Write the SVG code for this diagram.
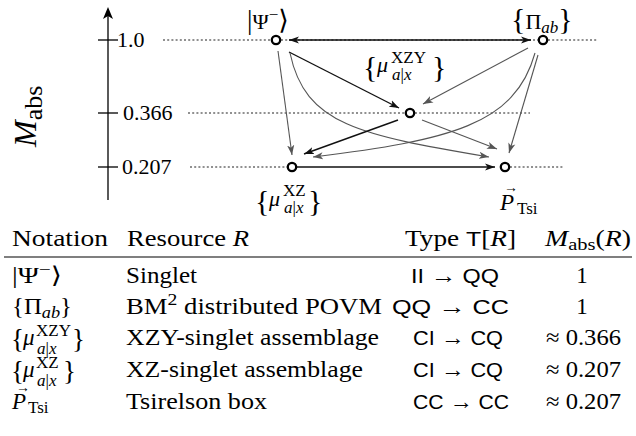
<svg xmlns="http://www.w3.org/2000/svg" width="636" height="436" viewBox="0 0 636 436">
<style>
.t{font-family:"Liberation Serif","DejaVu Serif","DejaVu Sans",serif;font-size:22px;fill:#000}
.tb{font-family:"Liberation Serif","DejaVu Serif","DejaVu Sans",serif;font-size:23px;fill:#000}
.it{font-style:italic}
.sf{font-family:"Liberation Sans","DejaVu Sans",sans-serif;font-size:21px}
.big{font-size:30px}
.mid{font-size:27px}
.sm{font-size:17px}
.dot{stroke:#222;stroke-width:1.1;stroke-dasharray:2 2.2;fill:none}
.k{stroke:#111;stroke-width:1.4;fill:none;marker-end:url(#ak)}
.g{stroke:#555;stroke-width:1.1;fill:none;marker-end:url(#ag)}
.node{fill:#fff;stroke:#000;stroke-width:2.3}
.rule{stroke:#000;stroke-width:1.2}
</style>
<defs>
<marker id="ak" viewBox="0 0 10 8" markerWidth="10" markerHeight="8" refX="10" refY="4" orient="auto-start-reverse" markerUnits="userSpaceOnUse"><path d="M0,0.4 L10,4 L0,7.6 L2.6,4 z" fill="#111"/></marker>
<marker id="ag" viewBox="0 0 10 8" markerWidth="10" markerHeight="8" refX="10" refY="4" orient="auto" markerUnits="userSpaceOnUse"><path d="M0,0.4 L10,4 L0,7.6 L2.6,4 z" fill="#555"/></marker>
</defs>

<g id="axis">
<line x1="108" y1="200" x2="108" y2="12" stroke="#000" stroke-width="1.3"/>
<path d="M108,7 L113,19 L108,16 L103,19 z" fill="#000"/>
<line x1="98" y1="40" x2="118" y2="40" stroke="#000" stroke-width="1.3"/>
<line x1="98" y1="113" x2="118" y2="113" stroke="#000" stroke-width="1.3"/>
<line x1="98" y1="167" x2="118" y2="167" stroke="#000" stroke-width="1.3"/>
<text class="t" x="117" y="47">1.0</text>
<text class="t" x="123" y="120">0.366</text>
<text class="t" x="122" y="174">0.207</text>
<text class="t" transform="translate(36,147) rotate(-90)"><tspan class="it" font-size="32">M</tspan><tspan font-size="26" dy="6">abs</tspan></text>
</g>

<g id="levels">
<line class="dot" x1="163" y1="40" x2="272" y2="40"/>
<line class="dot" x1="281" y1="40" x2="538" y2="40"/>
<line class="dot" x1="548" y1="40" x2="597" y2="40"/>
<line class="dot" x1="188" y1="113" x2="405" y2="113"/>
<line class="dot" x1="415" y1="113" x2="530" y2="113"/>
<line class="dot" x1="190" y1="167" x2="287" y2="167"/>
<line class="dot" x1="510" y1="167" x2="563" y2="167"/>
</g>

<g id="connectors">
<line x1="289" y1="40" x2="531" y2="40" stroke="#111" stroke-width="1.3" marker-start="url(#ak)" marker-end="url(#ak)"/>
<line class="k" x1="297" y1="167" x2="495" y2="167"/>
<line class="g" x1="278" y1="51" x2="292" y2="155"/>
<line class="k" x1="289" y1="52" x2="399" y2="108"/>
<path class="g" d="M290,53 C305,125 360,135 489,157"/>
<line class="g" x1="528" y1="48" x2="423" y2="104"/>
<line class="g" x1="538" y1="55" x2="509" y2="153"/>
<path class="g" d="M535,53 C515,125 450,140 313,157"/>
<line class="k" x1="398" y1="120" x2="304" y2="154"/>
<line class="g" x1="422" y1="120" x2="497" y2="149"/>
</g>

<g id="psi">
<circle class="node" cx="276" cy="40" r="4.2"/>
<text class="t" x="247" y="29"><tspan class="mid">|</tspan><tspan>Ψ</tspan><tspan class="sm" dy="-9">−</tspan><tspan class="mid" dy="9">⟩</tspan></text>
</g>
<g id="pi">
<circle class="node" cx="543" cy="40" r="4.2"/>
<text class="t" x="511" y="29"><tspan class="big">{</tspan><tspan>Π</tspan><tspan class="sm it" dy="4">ab</tspan><tspan class="big" dy="-4">}</tspan></text>
</g>
<g id="muxzy">
<circle class="node" cx="410" cy="113" r="4.2"/>
<text class="t" x="363" y="77"><tspan class="big">{</tspan><tspan class="it" x="377" y="72">μ</tspan><tspan class="sm" x="391" y="63">XZY</tspan><tspan class="sm it" x="392" y="80">a</tspan><tspan class="sm">|</tspan><tspan class="sm it">x</tspan><tspan class="big" x="432" y="77">}</tspan></text>
</g>
<g id="muxz">
<circle class="node" cx="292" cy="167" r="4.2"/>
<text class="t" x="255" y="211"><tspan class="big">{</tspan><tspan class="it" x="269" y="206">μ</tspan><tspan class="sm" x="283" y="196">XZ</tspan><tspan class="sm it" x="284" y="213">a</tspan><tspan class="sm">|</tspan><tspan class="sm it">x</tspan><tspan class="big" x="308" y="211">}</tspan></text>
</g>
<g id="ptsi">
<circle class="node" cx="505" cy="167" r="4.2"/>
<text class="tb" x="500" y="210"><tspan class="it">P</tspan><tspan x="504" y="192" font-size="14">→</tspan><tspan class="sm" x="517" y="214">Tsi</tspan></text>
</g>

<g id="table">
<text class="tb" x="12" y="246" textLength="96" lengthAdjust="spacingAndGlyphs">Notation</text>
<text class="tb" x="127" y="246" textLength="122" lengthAdjust="spacingAndGlyphs">Resource <tspan class="it">R</tspan></text>
<text class="tb" x="405" y="246" textLength="111" lengthAdjust="spacingAndGlyphs">Type <tspan class="sf">T</tspan>[<tspan class="it">R</tspan>]</text>
<text class="tb" x="545" y="246" textLength="86" lengthAdjust="spacingAndGlyphs"><tspan class="it">M</tspan><tspan class="sm" dy="4">abs</tspan><tspan dy="-4">(</tspan><tspan class="it">R</tspan>)</text>
<line class="rule" x1="4" y1="257" x2="632" y2="257"/>

<text class="tb" x="12" y="283" textLength="50" lengthAdjust="spacingAndGlyphs">|Ψ<tspan class="sm" dy="-8">−</tspan><tspan dy="8">⟩</tspan></text>
<text class="tb" x="126" y="283" textLength="71" lengthAdjust="spacingAndGlyphs">Singlet</text>
<text class="tb" x="411" y="283" textLength="88" lengthAdjust="spacingAndGlyphs"><tspan class="sf">II</tspan> → <tspan class="sf">QQ</tspan></text>
<text class="tb" x="582" y="283" text-anchor="middle">1</text>

<text class="tb" x="12" y="314" textLength="60" lengthAdjust="spacingAndGlyphs">{Π<tspan class="sm it" dy="4">ab</tspan><tspan dy="-4">}</tspan></text>
<text class="tb" x="126" y="314" textLength="256" lengthAdjust="spacingAndGlyphs">BM<tspan class="sm" dy="-9">2</tspan><tspan dy="9"> distributed POVM</tspan></text>
<text class="tb" x="392" y="314" textLength="117" lengthAdjust="spacingAndGlyphs"><tspan class="sf">QQ</tspan> → <tspan class="sf">CC</tspan></text>
<text class="tb" x="582" y="314" text-anchor="middle">1</text>

<text class="tb" x="11" y="348"><tspan class="mid">{</tspan><tspan class="it" x="23" y="345">μ</tspan><tspan class="sm" x="36" y="336">XZY</tspan><tspan class="sm it" x="37" y="354">a</tspan><tspan class="sm">|</tspan><tspan class="sm it">x</tspan><tspan class="mid" x="72" y="348">}</tspan></text>
<text class="tb" x="126" y="345" textLength="253" lengthAdjust="spacingAndGlyphs">XZY-singlet assemblage</text>
<text class="tb" x="413" y="345" textLength="90" lengthAdjust="spacingAndGlyphs"><tspan class="sf">CI</tspan> → <tspan class="sf">CQ</tspan></text>
<text class="tb" x="546" y="345" textLength="75" lengthAdjust="spacingAndGlyphs">≈ 0.366</text>

<text class="tb" x="11" y="380"><tspan class="mid">{</tspan><tspan class="it" x="23" y="377">μ</tspan><tspan class="sm" x="36" y="368">XZ</tspan><tspan class="sm it" x="37" y="386">a</tspan><tspan class="sm">|</tspan><tspan class="sm it">x</tspan><tspan class="mid" x="63" y="380">}</tspan></text>
<text class="tb" x="126" y="377" textLength="237" lengthAdjust="spacingAndGlyphs">XZ-singlet assemblage</text>
<text class="tb" x="413" y="377" textLength="90" lengthAdjust="spacingAndGlyphs"><tspan class="sf">CI</tspan> → <tspan class="sf">CQ</tspan></text>
<text class="tb" x="546" y="377" textLength="75" lengthAdjust="spacingAndGlyphs">≈ 0.207</text>

<text class="tb" x="12" y="409"><tspan class="it">P</tspan><tspan x="16" y="392" font-size="14">→</tspan><tspan class="sm" x="28" y="413">Tsi</tspan></text>
<text class="tb" x="126" y="409" textLength="141" lengthAdjust="spacingAndGlyphs">Tsirelson box</text>
<text class="tb" x="413" y="409" textLength="96" lengthAdjust="spacingAndGlyphs"><tspan class="sf">CC</tspan> → <tspan class="sf">CC</tspan></text>
<text class="tb" x="546" y="409" textLength="75" lengthAdjust="spacingAndGlyphs">≈ 0.207</text>
</g>
</svg>
